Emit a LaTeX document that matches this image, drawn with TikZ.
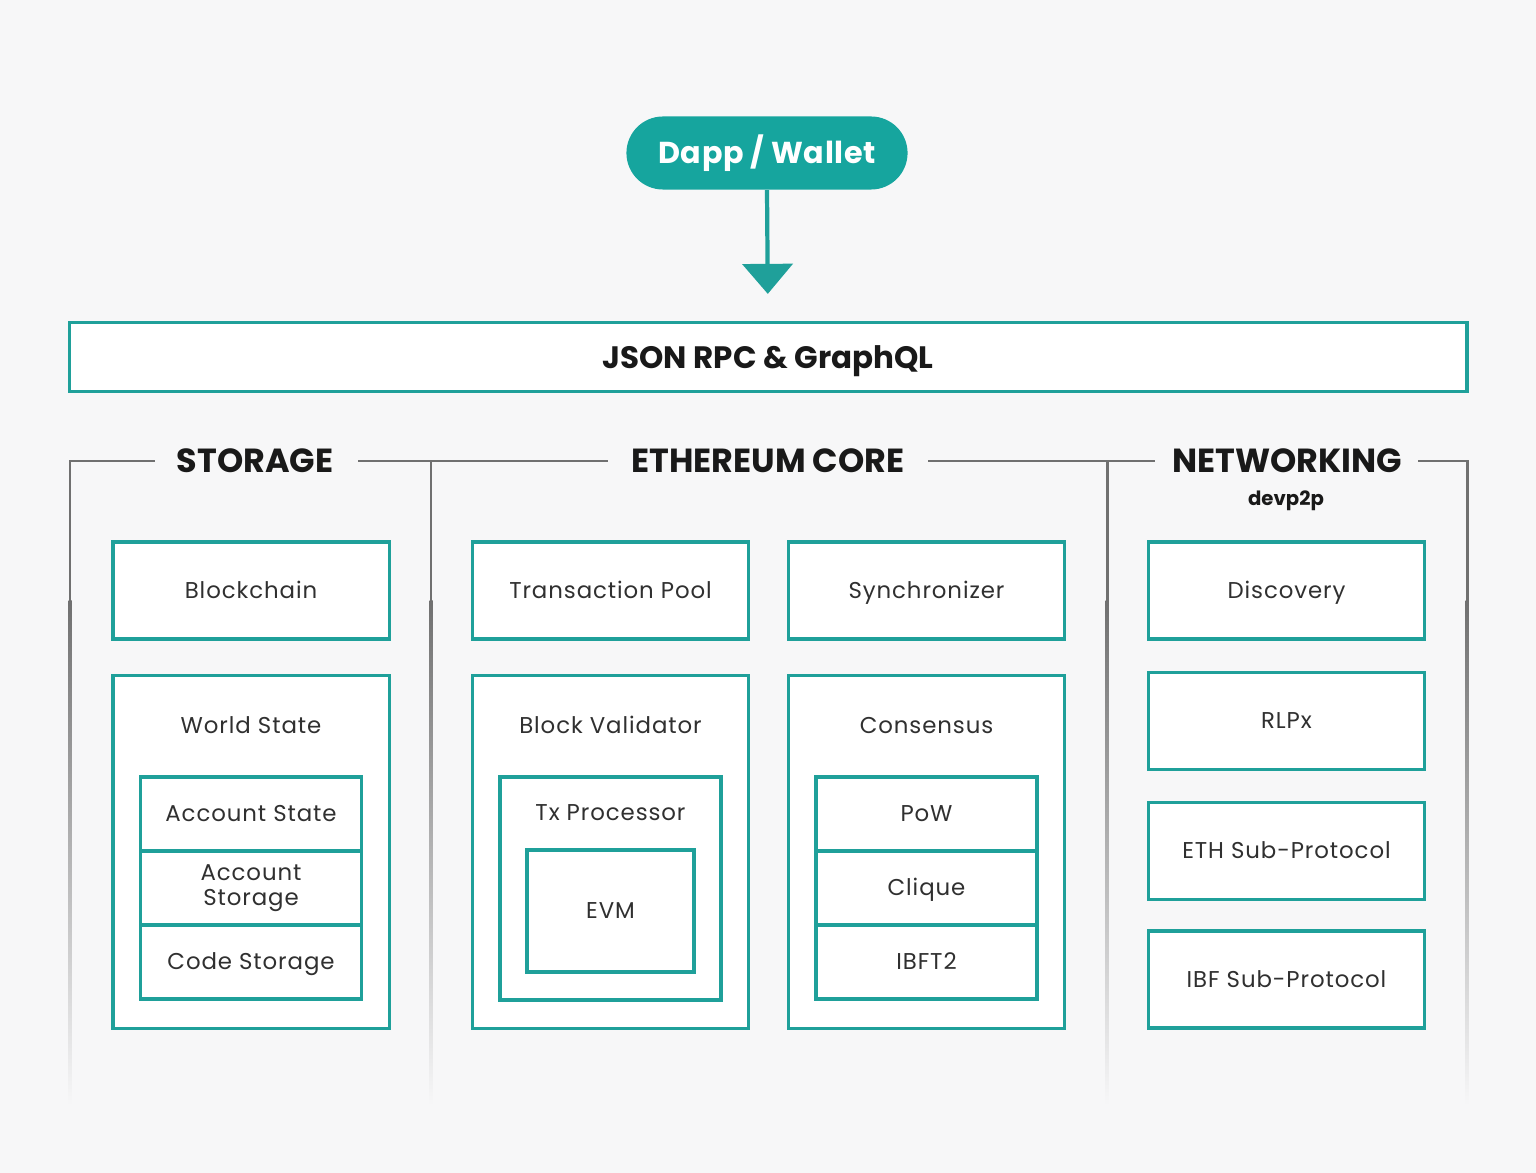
\documentclass[tikz,border=0pt]{standalone}
\usepackage{fontspec}
\setmainfont{Poppins}
\usetikzlibrary{arrows.meta,positioning}

\definecolor{ethteal}{HTML}{1FA09A}
\definecolor{pillteal}{HTML}{16A59E}
\definecolor{grpgray}{HTML}{707070}
\definecolor{bgpaper}{HTML}{F7F7F8}
\definecolor{txtdark}{HTML}{303030}

\tikzset{
    box/.style={draw=ethteal, line width=0.9pt, fill=white, inner sep=0pt, align=center,
        text=txtdark, font=\fontsize{6.5}{7.2}\selectfont\addfontfeature{LetterSpace=4}},
    oneline/.style={text height=1.2ex, text depth=0.4ex},
    lbl/.style={oneline, text=txtdark, inner sep=0pt, font=\fontsize{6.5}{7.2}\selectfont\addfontfeature{LetterSpace=4}},
    heading/.style={text=black!90, inner sep=0pt, font=\fontsize{9.5}{11}\selectfont\bfseries},
    grpline/.style={draw=grpgray, line width=0.85pt},
    arr/.style={draw=ethteal, line width=1.2pt, -{Triangle[width=0.5cm,length=0.3cm]}}
}

\begin{document}
\begin{tikzpicture}[x=0.01cm, y=-0.01cm]
    \useasboundingbox (0,0) rectangle (1536,1173);
    \fill[bgpaper] (0,0) rectangle (1536,1173);

    % Top: wallet and API layer
    \node[fill=pillteal, rounded corners=0.365cm, minimum width=2.81cm, minimum height=0.73cm,
        text=white, font=\fontsize{8.6}{10}\selectfont\bfseries\addfontfeature{LetterSpace=2}] (dapp) at (767,153) {Dapp / Wallet};
    \node[box, text height=1.6ex, text depth=0.4ex, minimum width=13.97cm, minimum height=0.69cm, text=black!90,
        font=\fontsize{8.8}{10}\selectfont\bfseries] (json) at (768,357) {JSON RPC \& GraphQL};
    \draw[arr, shorten >=0.27cm] (dapp.south) -- (json.north);

    % Group headings
    \node[heading] (storage) at (255,461) {STORAGE};
    \node[heading] (core) at (768,461) {ETHEREUM CORE};
    \node[heading] (netw) at (1287,461) {NETWORKING};
    \node[heading, oneline, font=\fontsize{5.6}{7}\selectfont\bfseries] (devp) at (1286,498) {devp2p};

    % Group frames
    \draw[grpline] (70,601) -- (70,461) -- (155,461);
    \draw[grpline] (358,461) -- (608,461);
    \draw[grpline] (928,461) -- (1155,461);
    \draw[grpline] (1418,461) -- (1467,461) -- (1467,601);
    \draw[grpline] (431,461) -- (431,601);
    \draw[grpline] (1107,461) -- (1107,601);
    \foreach \x in {70,431,1107,1467}
        \shade[top color=grpgray, bottom color=bgpaper] (\x-1.5,600) rectangle (\x+1.5,1105);

    % Small boxes
    \foreach \name/\x/\y/\txt in {blockchain/251/590.5/Blockchain, txpool/610.5/590.5/Transaction Pool,
        sync/926.5/590.5/Synchronizer, discovery/1286.5/590.5/Discovery, rlpx/1286.5/721/RLPx,
        ethsub/1286.5/851/ETH Sub-Protocol, ibfsub/1286.5/979.5/IBF Sub-Protocol}
        \node[box, oneline, minimum width=2.76cm, minimum height=0.97cm] (\name) at (\x,\y) {\txt};

    % Large containers
    \foreach \name/\x/\txt in {world/251/World State, blockval/610.5/Block Validator, consensus/926.5/Consensus} {
        \node[box, minimum width=2.76cm, minimum height=3.52cm] (\name) at (\x,852) {};
        \node[lbl] (\name-title) at (\x,726) {\txt};
    }

    % Stacked cells
    \foreach \name/\x/\y/\txt in {accstate/251/814/Account State, codestore/251/962/Code Storage,
        pow/926.5/814/PoW, clique/926.5/888/Clique, ibft/926.5/962/IBFT2}
        \node[box, oneline, minimum width=2.21cm, minimum height=0.74cm] (\name) at (\x,\y) {\txt};
    \node[box, minimum width=2.21cm, minimum height=0.74cm] (accstore) at (251,888) {Account\\Storage};

    % Tx processor and EVM
    \node[box, minimum width=2.21cm, minimum height=2.23cm] (txproc) at (610.5,888.5) {};
    \node[lbl] (txproc-title) at (610.5,813) {Tx Processor};
    \node[box, oneline, minimum width=1.67cm, minimum height=1.22cm] (evm) at (610.5,911) {EVM};
\end{tikzpicture}
\end{document}
